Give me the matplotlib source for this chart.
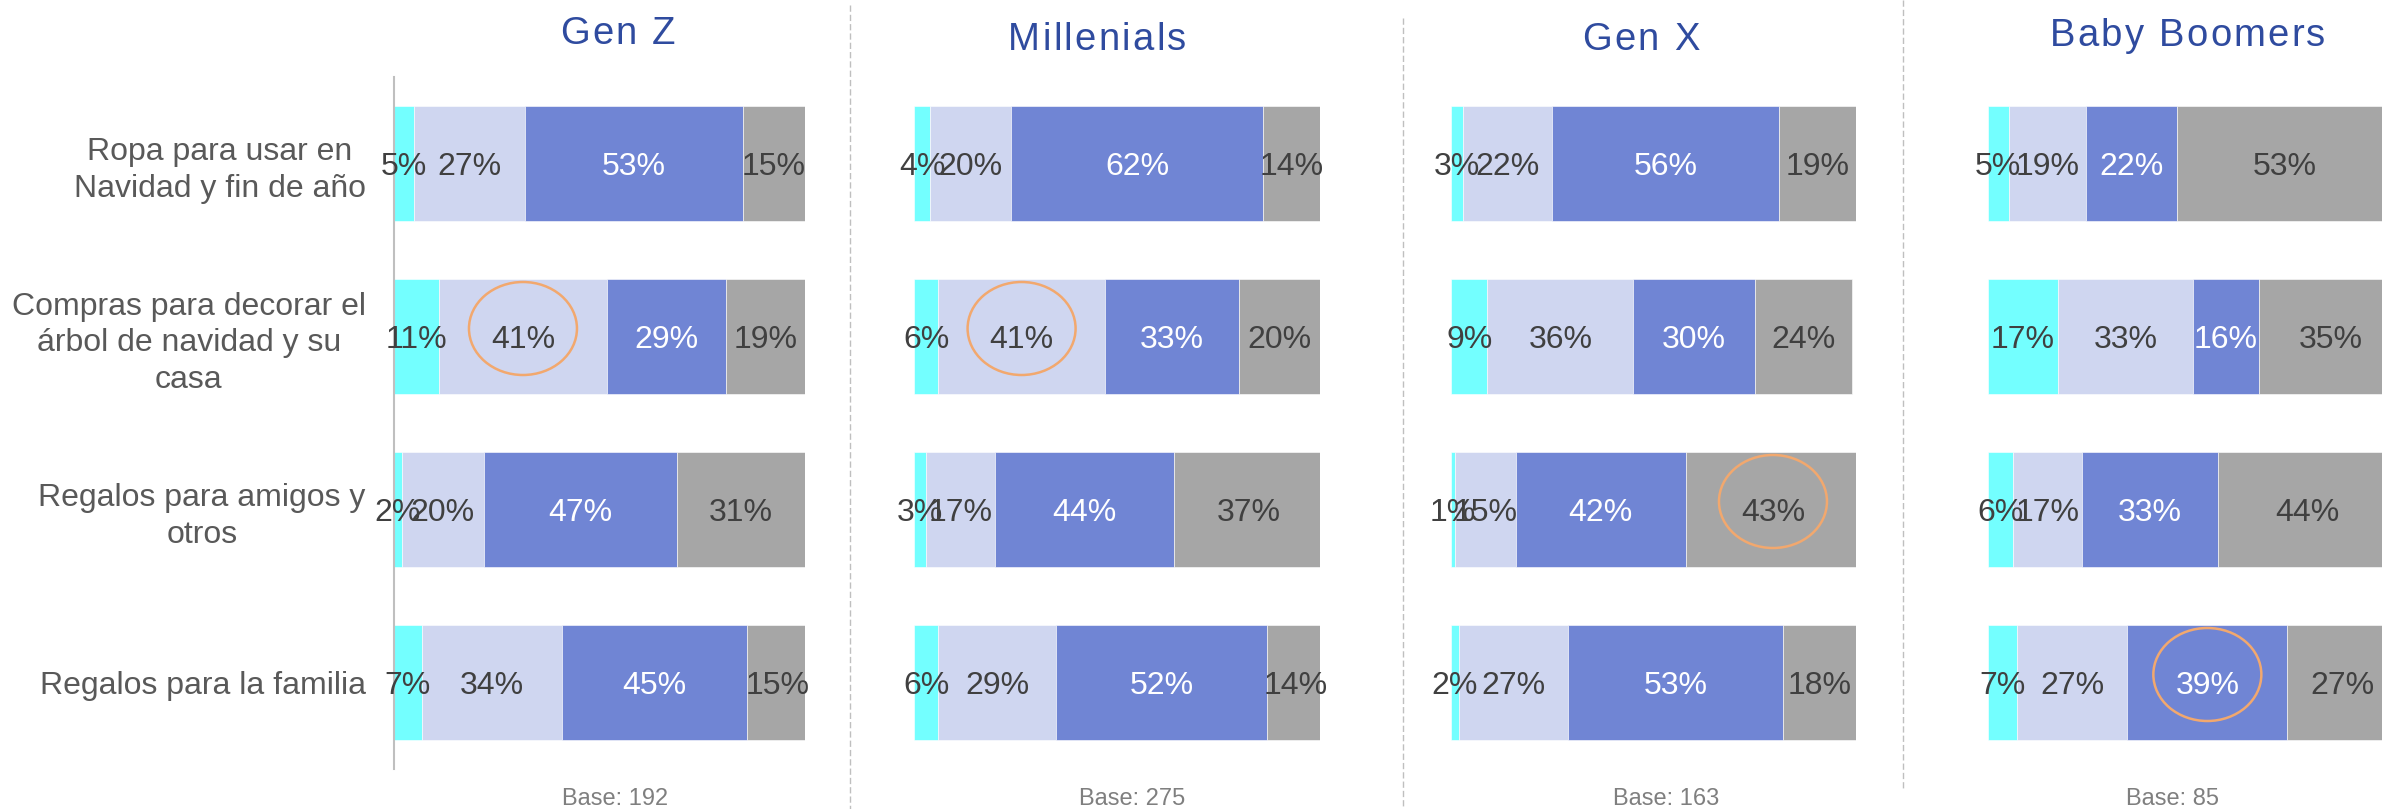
import matplotlib
matplotlib.use('Agg')
import matplotlib.pyplot as plt
from matplotlib.patches import Ellipse
from matplotlib.lines import Line2D
from matplotlib import font_manager
import numpy as np

plt.rcParams['font.family'] = ['Liberation Sans', 'DejaVu Sans']

# ---------------- data ----------------
categories = [
    "Ropa para usar en\nNavidad y fin de año",
    "Compras para decorar el\nárbol de navidad y su\ncasa",
    "Regalos para amigos y\notros",
    "Regalos para la familia",
]
groups = ["Gen Z", "Millenials", "Gen X", "Baby Boomers"]
bases = [192, 275, 163, 85]

gen_z = [[5, 27, 53, 15], [11, 41, 29, 19], [2, 20, 47, 31], [7, 34, 45, 15]]
millenials = [[4, 20, 62, 14], [6, 41, 33, 20], [3, 17, 44, 37], [6, 29, 52, 14]]
gen_x = [[3, 22, 56, 19], [9, 36, 30, 24], [1, 15, 42, 43], [2, 27, 53, 18]]
baby_boomers = [[5, 19, 22, 53], [17, 33, 16, 35], [6, 17, 33, 44], [7, 27, 39, 27]]
group_values = [gen_z, millenials, gen_x, baby_boomers]

# highlighted (group, row, segment)
highlights = [(0, 1, 1), (1, 1, 1), (2, 2, 3), (3, 3, 2)]

# ---------------- style ----------------
seg_colors = ['#73FFFF', '#CFD6F0', '#7085D4', '#A6A6A6']
seg_text = ['#404040', '#404040', '#FFFFFF', '#404040']
title_color = '#2F4B9F'
value_size = 23

W, H = 2382, 809
fig = plt.figure(figsize=(W / 100, H / 100), dpi=100)

panel_px = [(393.5, 411), (914, 406), (1451, 405), (1988, 410)]
top_px, bot_px = 77, 769
row_px = (bot_px - top_px) / 4.0
cap_half = 0.716 * value_size * 100 / 72 / 2  # half cap height in px

for gi, vals in enumerate(group_values):
    left, width = panel_px[gi]
    ax = fig.add_axes([left / W, (H - bot_px) / H, width / W, (bot_px - top_px) / H])
    ax.set_xlim(0, 100)
    ax.set_ylim(3.5, -0.5)
    ax.patch.set_visible(False)
    v = np.array(vals)
    y = np.arange(len(categories))
    lefts = np.zeros(len(categories))
    for s in range(v.shape[1]):
        ax.barh(y, v[:, s], left=lefts, height=0.67, color=seg_colors[s],
                edgecolor='white', linewidth=0.4)
        for r in range(len(categories)):
            cx = lefts[r] + v[r, s] / 2
            ax.text(cx, r + cap_half / row_px, f"{v[r, s]}%", ha='center', va='baseline',
                    fontsize=value_size, color=seg_text[s], zorder=4)
        lefts = lefts + v[:, s]
    for sp in ax.spines.values():
        sp.set_visible(False)
    ax.set_xticks([])
    if gi == 0:
        ax.spines['left'].set_visible(True)
        ax.spines['left'].set_color('#BFBFBF')
        ax.spines['left'].set_linewidth(1.5)
        ax.set_yticks(y, categories)
        ax.tick_params(axis='y', length=0, pad=20, labelsize=23, labelcolor='#595959')
        for lbl in ax.get_yticklabels():
            lbl.set_multialignment('center')
            lbl.set_linespacing(1.3)
    else:
        ax.set_yticks([])
    for (hg, hr, hs) in highlights:
        if hg == gi:
            cx = v[hr, :hs].sum() + v[hr, hs] / 2
            e = Ellipse((cx, hr - 8 / row_px), 108 / width * 100, 93 / row_px,
                        fill=False, edgecolor='#F2A86E', linewidth=1.8,
                        clip_on=False, zorder=5)
            ax.add_patch(e)

# ---------------- titles with letter spacing ----------------
title_pos = [(618, 44), (1097, 50.5), (1641, 50), (2187.5, 45.5)]
title_size = 27.5
letter_sp = 2.4


def spaced_title(xc, baseline, s):
    try:
        from matplotlib.ft2font import FT2Font
        path = font_manager.findfont(font_manager.FontProperties(family='Liberation Sans'))
        ft = FT2Font(path, hinting_factor=1)
        ft.set_size(title_size, 100)
        advs = [ft.load_char(ord(c)).linearHoriAdvance / 65536.0 for c in s]
        if not (5 < advs[0] < 80):
            raise ValueError
    except Exception:
        fig.text(xc / W, 1 - baseline / H, s, ha='center', va='baseline',
                 fontsize=title_size, color=title_color)
        return
    total = sum(advs) + letter_sp * (len(s) - 1)
    x = xc - total / 2
    for c, a in zip(s, advs):
        if c != ' ':
            fig.text((x + a / 2) / W, 1 - baseline / H, c, ha='center', va='baseline',
                     fontsize=title_size, color=title_color)
        x += a + letter_sp


for g, (xc, bl) in zip(groups, title_pos):
    spaced_title(xc, bl, g)

# ---------------- base labels ----------------
base_x = [615, 1132, 1666, 2172]
for b, xc in zip(bases, base_x):
    fig.text(xc / W, 1 - 805 / H, f"Base: {b}", ha='center', va='baseline',
             fontsize=17, color='#7F7F7F')

# ---------------- separators ----------------
sep_specs = [(850, 5, 809), (1403, 18, 809), (1903, 0, 790)]
for xs, y0, y1 in sep_specs:
    fig.add_artist(Line2D([xs / W, xs / W], [1 - y0 / H, 1 - y1 / H],
                          transform=fig.transFigure, color='#BFBFBF',
                          linewidth=1.0, linestyle=(0, (4.5, 2.2))))

fig.savefig('out.png', dpi=100)
